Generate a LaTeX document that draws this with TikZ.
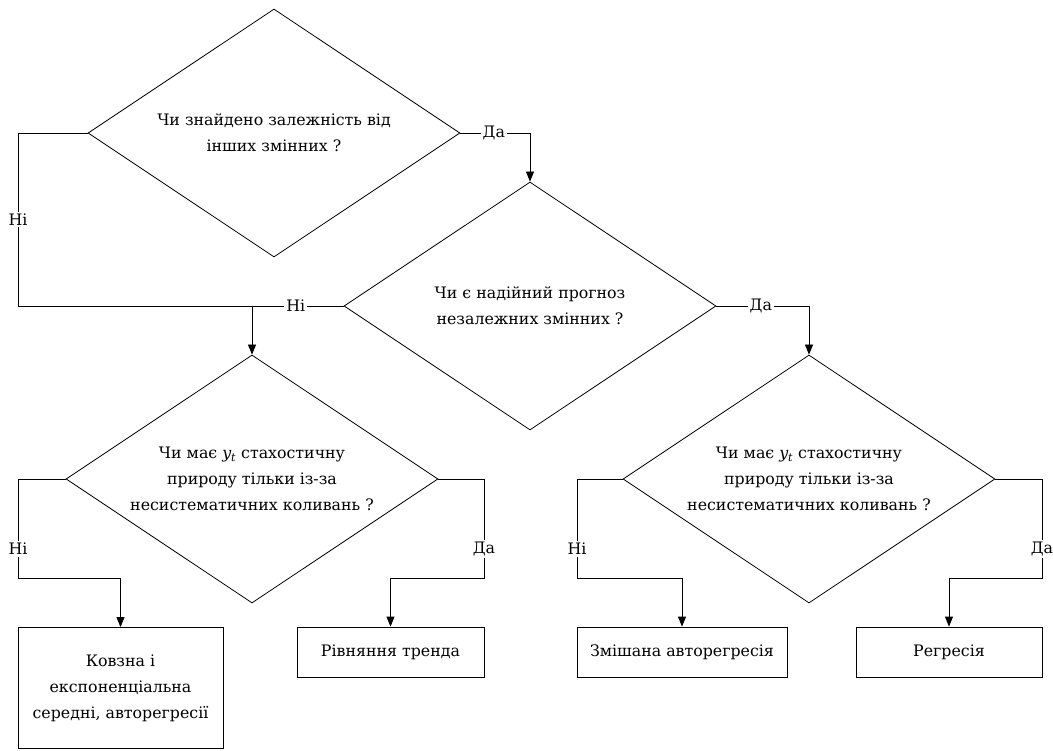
\documentclass[tikz,border=0pt]{standalone}
\usepackage{fontspec}
\setmainfont{DejaVu Serif}
\usetikzlibrary{shapes.geometric,arrows.meta}
\begin{document}
\begin{tikzpicture}[x=1pt, y=-1pt, line width=0.8pt,
		every node/.style={font=\fontsize{15.8}{26}\selectfont},
		ask/.style={diamond, draw, aspect=1.5, minimum width=372pt, minimum height=248pt, inner sep=0pt, align=center},
		res/.style={rectangle, draw, minimum height=50pt, inner sep=0pt, align=center},
		lbl/.style={fill=white, inner sep=2pt},
		arr/.style={-{Triangle[length=10pt, width=8pt]}}]
	\useasboundingbox (0,0) rectangle (1053,751);
	% questions
	\node[ask] (q1) at (274,133) {Чи знайдено залежність від\\інших змінних ?};
	\node[ask] (q2) at (530,306) {Чи є надійний прогноз\\незалежних змінних ?};
	\node[ask] (q3) at (252,479) {Чи має \textit{y\textsubscript{t}} стахостичну\\природу тільки із-за\\несистематичних коливань ?};
	\node[ask] (q4) at (809,479) {Чи має \textit{y\textsubscript{t}} стахостичну\\природу тільки із-за\\несистематичних коливань ?};
	% methods
	\node[res, minimum width=205pt, minimum height=121pt] (m1) at (120.5,688) {Ковзна і\\експоненціальна\\середні, авторегресії};
	\node[res, minimum width=187pt] (m2) at (390.5,652) {Рівняння тренда};
	\node[res, minimum width=210pt] (m3) at (682,652) {Змішана авторегресія};
	\node[res, minimum width=186pt] (m4) at (949,652) {Регресія};
	% turning points
	\coordinate (c0) at (18,306);
	\coordinate (c1) at (18,578);
	\coordinate (c2) at (484,578);
	\coordinate (c3) at (577,578);
	\coordinate (c4) at (1042,578);
	% connectors
	\draw (q1.west) -| node[lbl, pos=0.75] {Ні} (c0);
	\draw (c0) -- node[lbl, pos=0.853] {Ні} (q2.west);
	\draw[arr] (q3.north |- c0) -- (q3.north);
	\draw[arr] (q1.east) -| node[lbl, pos=0.24] {Да} (q2.north);
	\draw[arr] (q2.east) -| node[lbl, pos=0.24] {Да} (q4.north);
	\draw[arr] (q3.west) -| node[lbl, pos=0.854] {Ні} (c1) -| (m1.north);
	\draw[arr] (q3.east) -| node[lbl, pos=0.854] {Да} (c2) -| (m2.north);
	\draw[arr] (q4.west) -| node[lbl, pos=0.854] {Ні} (c3) -| (m3.north);
	\draw[arr] (q4.east) -| node[lbl, pos=0.854] {Да} (c4) -| (m4.north);
\end{tikzpicture}
\end{document}
